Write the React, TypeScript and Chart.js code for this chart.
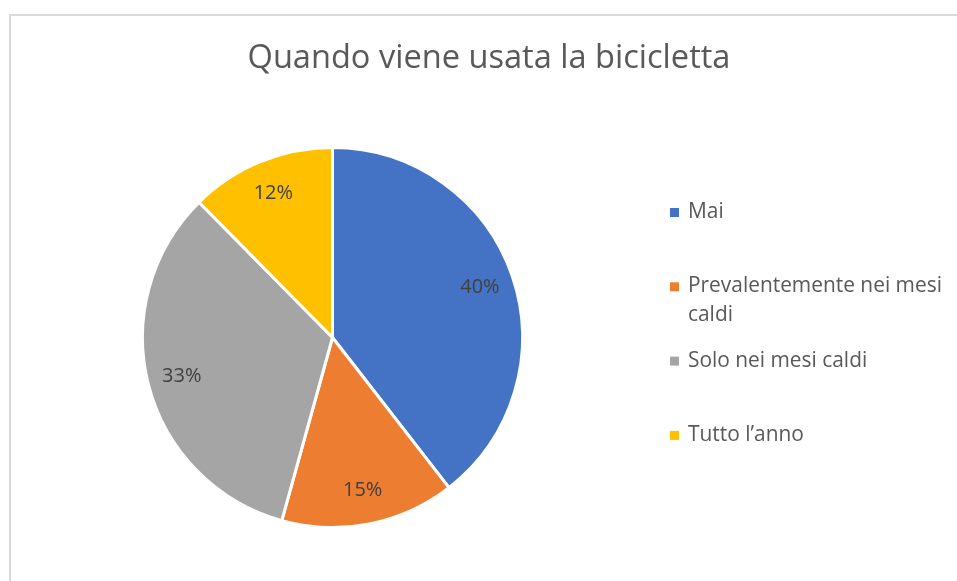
import React, { useEffect, useRef } from "react";
import { Chart, registerables } from "chart.js";

Chart.register(...registerables);

const titleText = "Quando viene usata la bicicletta";
const categories = ["Mai", "Prevalentemente nei mesi caldi", "Solo nei mesi caldi", "Tutto l’anno"];
const shares = [39.5, 14.8, 33.3, 12.4];
const colors = ["#4472C4", "#ED7D31", "#A5A5A5", "#FFC000"];

const FONT = "'Open Sans', Lato, sans-serif";

const framePlugin = {
  id: "frame",
  beforeDraw(chart: any) {
    const ctx = chart.ctx;
    ctx.save();
    ctx.fillStyle = "#ffffff";
    ctx.fillRect(0, 0, chart.width, chart.height);
    ctx.strokeStyle = "#d9d9d9";
    ctx.lineWidth = 2;
    ctx.beginPath();
    ctx.moveTo(10, chart.height);
    ctx.lineTo(10, 15);
    ctx.lineTo(chart.width, 15);
    ctx.stroke();
    ctx.restore();
  },
};

const sliceLabelPlugin = {
  id: "sliceLabels",
  afterDatasetsDraw(chart: any) {
    const ctx = chart.ctx;
    const meta = chart.getDatasetMeta(0);
    const data = chart.data.datasets[0].data as number[];
    const total = data.reduce((a, b) => a + b, 0);
    ctx.save();
    ctx.font = `20px ${FONT}`;
    ctx.fillStyle = "#404040";
    ctx.textAlign = "center";
    ctx.textBaseline = "middle";
    meta.data.forEach((arc: any, i: number) => {
      const p = arc.getProps(["x", "y", "startAngle", "endAngle", "outerRadius"], true);
      const mid = (p.startAngle + p.endAngle) / 2;
      const r = p.outerRadius * 0.82;
      ctx.fillText(
        Math.round((data[i] / total) * 100) + "%",
        p.x + Math.cos(mid) * r,
        p.y + Math.sin(mid) * r
      );
    });
    ctx.restore();
  },
};

function wrapText(ctx: CanvasRenderingContext2D, text: string, maxWidth: number): string[] {
  const words = text.split(" ");
  const lines: string[] = [];
  let line = "";
  for (const w of words) {
    const test = line ? line + " " + w : w;
    if (ctx.measureText(test).width > maxWidth && line) {
      lines.push(line);
      line = w;
    } else {
      line = test;
    }
  }
  if (line) lines.push(line);
  return lines;
}

const titleLegendPlugin = {
  id: "titleLegend",
  afterDraw(chart: any) {
    const ctx = chart.ctx;
    ctx.save();
    // title
    ctx.font = `32.6px ${FONT}`;
    ctx.fillStyle = "#595959";
    ctx.textAlign = "center";
    ctx.textBaseline = "middle";
    ctx.fillText(titleText, 489, 59);
    // legend
    const labels = chart.data.labels as string[];
    const bg = chart.data.datasets[0].backgroundColor as string[];
    ctx.font = `20.9px ${FONT}`;
    ctx.textAlign = "left";
    const startY = 212;
    const step = 74.3;
    const lineH = 29;
    labels.forEach((lab, i) => {
      const y = startY + i * step;
      ctx.fillStyle = bg[i];
      ctx.fillRect(670, y - 4, 9, 9);
      ctx.fillStyle = "#595959";
      const lines = wrapText(ctx, lab, 266);
      lines.forEach((ln, j) => ctx.fillText(ln, 688, y + j * lineH));
    });
    ctx.restore();
  },
};

export default function App() {
  const ref = useRef<HTMLCanvasElement | null>(null);
  useEffect(() => {
    if (!ref.current) return;
    const chart = new Chart(ref.current, {
      type: "pie",
      data: {
        labels: categories,
        datasets: [
          {
            data: shares,
            backgroundColor: colors,
            borderColor: "#ffffff",
            borderWidth: 3,
          },
        ],
      },
      options: {
        responsive: false,
        animation: false,
        devicePixelRatio: 1,
        events: [],
        layout: { padding: { left: 141, right: 433, top: 146, bottom: 52 } },
        plugins: {
          legend: { display: false },
          tooltip: { enabled: false },
          title: { display: false },
        },
      },
      plugins: [framePlugin, sliceLabelPlugin, titleLegendPlugin],
    });
    return () => chart.destroy();
  }, []);
  return (
    <div style={{ position: "absolute", left: 0, top: 0, width: 957, height: 581, overflow: "hidden" }}>
      <canvas ref={ref} width={957} height={581} style={{ display: "block", width: 957, height: 581 }} />
    </div>
  );
}
